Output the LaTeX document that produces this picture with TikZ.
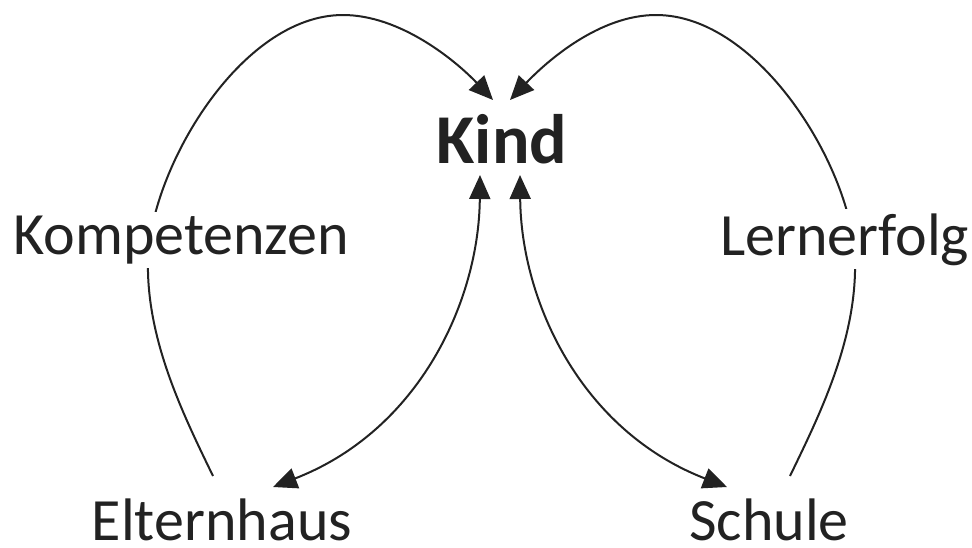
\documentclass[tikz,border=0pt]{standalone}
\usepackage{fontspec}
\setmainfont{Carlito}
\usetikzlibrary{arrows.meta,backgrounds}
\definecolor{ink}{HTML}{222222}
\begin{document}
\begin{tikzpicture}[x=1pt,y=-1pt,
  lbl/.style={font=\fontsize{60}{72}\selectfont, text=ink, inner sep=0pt},
  lblw/.style={lbl, fill=white, inner sep=4pt},
  conn/.style={draw=ink, line width=2pt},
  tip/.style={-{Triangle[length=24pt,width=21pt]}},
  dtip/.style={{Triangle[length=24pt,width=21pt]}-{Triangle[length=24pt,width=21pt]}}]
\useasboundingbox (0,0) rectangle (972,547);
\node[lbl, font=\fontsize{70}{84}\selectfont\bfseries, anchor=base] (kind) at (502,163) {Kind};
\node[lblw, anchor=base] (komp) at (181,254) {Kompetenzen};
\node[lblw, anchor=base] (lern) at (844.5,255) {Lernerfolg};
\node[lbl, anchor=base] (eltern) at (222,540) {Elternhaus};
\node[lbl, anchor=base] (schule) at (769,540) {Schule};
\coordinate (eL) at (213,476);
\coordinate (kTL) at (493,100);
\coordinate (sR) at (790,476);
\coordinate (kTR) at (510,100);
\coordinate (kBL) at (480,175);
\coordinate (eI) at (273,487);
\coordinate (kBR) at (520,175);
\coordinate (sI) at (727,487);
\begin{scope}[on background layer]
\draw[conn, tip] (eL) .. controls (184,416) and (146,340) .. (148,260)
  .. controls (150,170) and (240,15) .. (343,15)
  .. controls (400,15) and (455,60) .. (kTL);
\draw[conn, tip] (sR) .. controls (819,416) and (857,340) .. (855,260)
  .. controls (853,170) and (760,15) .. (656,15)
  .. controls (600,15) and (548,60) .. (kTR);
\end{scope}
\draw[conn, dtip] (kBL) .. controls (479,300) and (420,430) .. (eI);
\draw[conn, dtip] (kBR) .. controls (521,300) and (580,430) .. (sI);
\end{tikzpicture}
\end{document}
